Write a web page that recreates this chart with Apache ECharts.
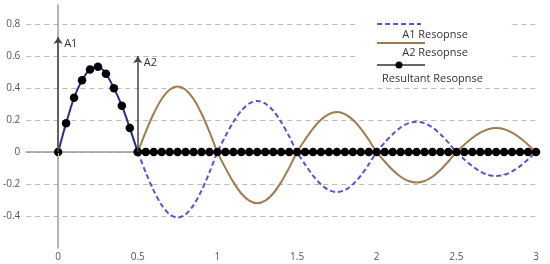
<!DOCTYPE html>
<html>
<head>
<meta charset="utf-8">
<script src="https://cdn.jsdelivr.net/npm/echarts@6/dist/echarts.min.js"></script>
<style>html,body{margin:0;padding:0;background:#fff;}#c{width:550px;height:264px;}</style>
</head>
<body>
<div id="c"></div>
<script>
// x tick labels
const xTicks = [0, 0.5, 1, 1.5, 2, 2.5, 3];
// Resultant response sample times and values
const resX1 = [0, 0.05, 0.1, 0.15, 0.2, 0.25, 0.3, 0.35, 0.4, 0.45, 0.5];
const resY1 = [0, 0.18, 0.34, 0.45, 0.517, 0.533, 0.49, 0.40, 0.29, 0.15, 0];
const resX2 = [0.5, 0.55, 0.6, 0.65, 0.7, 0.75, 0.8, 0.85, 0.9, 0.95, 1, 1.05, 1.1, 1.15, 1.2, 1.25, 1.3, 1.35, 1.4, 1.45, 1.5, 1.55, 1.6, 1.65, 1.7, 1.75, 1.8, 1.85, 1.9, 1.95, 2, 2.05, 2.1, 2.15, 2.2, 2.25, 2.3, 2.35, 2.4, 2.45, 2.5, 2.55, 2.6, 2.65, 2.7, 2.75, 2.8, 2.85, 2.9, 2.95, 3];
const resY2 = [0, 0, 0, 0, 0, 0, 0, 0, 0, 0, 0, 0, 0, 0, 0, 0, 0, 0, 0, 0, 0, 0, 0, 0, 0, 0, 0, 0, 0, 0, 0, 0, 0, 0, 0, 0, 0, 0, 0, 0, 0, 0, 0, 0, 0, 0, 0, 0, 0, 0, 0];
// A1 / A2 responses after t = 0.5 (same time grid as resX2)
const respX = resX2;
const a1Y = [0, -0.127, -0.241, -0.332, -0.39, -0.41, -0.39, -0.332, -0.241, -0.127,
  0, 0.099, 0.188, 0.259, 0.304, 0.32, 0.304, 0.259, 0.188, 0.099,
  0, -0.077, -0.147, -0.202, -0.238, -0.25, -0.238, -0.202, -0.147, -0.077,
  0, 0.059, 0.112, 0.154, 0.181, 0.19, 0.181, 0.154, 0.112, 0.059,
  0, -0.046, -0.088, -0.121, -0.143, -0.15, -0.143, -0.121, -0.088, -0.046, 0];
const a2Y = [0, 0.127, 0.241, 0.332, 0.39, 0.41, 0.39, 0.332, 0.241, 0.127,
  0, -0.099, -0.188, -0.259, -0.304, -0.32, -0.304, -0.259, -0.188, -0.099,
  0, 0.077, 0.147, 0.202, 0.238, 0.25, 0.238, 0.202, 0.147, 0.077,
  0, -0.059, -0.112, -0.154, -0.181, -0.19, -0.181, -0.154, -0.112, -0.059,
  0, 0.046, 0.088, 0.121, 0.143, 0.15, 0.143, 0.121, 0.088, 0.046, 0];
// Impulse arrows
const arrowX = [0, 0.5];
const arrowY = [0.72, 0.6];
const arrowLabels = ['A1', 'A2'];
const legendNames = ['A1 Resopnse', 'A2 Resopnse', 'Resultant Resopnse'];

const zip = (xs, ys) => xs.map((x, i) => [x, ys[i]]);
const FONT = 'Open Sans';
const chart = echarts.init(document.getElementById('c'), null, {renderer: 'canvas'});

const arrowSeries = arrowX.map((x, i) => ({
  type: 'line', data: [], silent: true, z: 1,
  markLine: {
    silent: true, symbol: ['none', 'arrow'], symbolSize: 7,
    lineStyle: {color: '#444', width: 1.5, type: 'solid'},
    label: {show: false},
    data: [[{coord: [x, 0]}, {coord: [x, arrowY[i]]}]]
  },
  markPoint: {
    symbol: 'circle', symbolSize: 0,
    label: {show: true, position: 'right', distance: 6, offset: [0, 7], formatter: arrowLabels[i], color: '#333', fontFamily: FONT, fontSize: 11},
    data: [{coord: [x, arrowY[i]]}]
  }
}));

const option = {
  animation: false,
  backgroundColor: '#fff',
  grid: {left: 24, right: 14, top: 5, bottom: 16, containLabel: false},
  xAxis: {
    type: 'value', min: -0.2, max: 3,
    axisLine: {show: true, lineStyle: {color: '#999', width: 1.5}},
    axisTick: {show: true, inside: true, length: 2, lineStyle: {color: '#999'}, customValues: xTicks},
    axisLabel: {customValues: xTicks, color: '#555', fontFamily: FONT, fontSize: 10, margin: 4},
    splitLine: {show: false}
  },
  yAxis: {
    type: 'value', min: -0.6, max: 0.92, interval: 0.2,
    axisLine: {show: true, lineStyle: {color: '#999', width: 1.5}},
    axisTick: {show: false},
    axisLabel: {color: '#555', fontFamily: FONT, fontSize: 10, margin: 6, showMinLabel: false, showMaxLabel: false,
      formatter: v => (Math.abs(v) < 1e-9 ? '0' : String(Math.round(v * 10) / 10))},
    splitLine: {show: true, showMinLine: false, showMaxLine: false, lineStyle: {color: '#bbb', type: [5, 4], width: 1.2}}
  },
  series: [
    {
      type: 'line', data: [], silent: true, z: 0,
      markLine: {silent: true, symbol: 'none', label: {show: false},
        lineStyle: {color: '#bbb', type: [5, 4], width: 1.2},
        data: [{xAxis: 0}]}
    },
    ...arrowSeries,
    {
      name: legendNames[0], type: 'line', data: zip(respX, a1Y), smooth: 0.3, showSymbol: false, z: 2,
      lineStyle: {color: '#5a4fd6', width: 2, type: [5, 3]}
    },
    {
      name: legendNames[1], type: 'line', data: zip(respX, a2Y), smooth: 0.3, showSymbol: false, z: 2,
      lineStyle: {color: '#a27a4c', width: 2}
    },
    {
      name: legendNames[2], type: 'line', data: zip(resX1, resY1), smooth: 0.3, z: 3,
      symbol: 'circle', symbolSize: 8.5, showAllSymbol: true,
      itemStyle: {color: '#000'}, lineStyle: {color: '#2a2a8c', width: 2}
    },
    {
      name: legendNames[2], type: 'line', data: zip(resX2, resY2), z: 3,
      symbol: 'circle', symbolSize: 8.5, showAllSymbol: true,
      itemStyle: {color: '#000'}, lineStyle: {color: '#000', width: 2}
    }
  ],
  graphic: [
    {type: 'rect', shape: {x: 358, y: 14, width: 150, height: 74}, style: {fill: '#fff'}, z: 10},
    {type: 'line', shape: {x1: 377, y1: 24, x2: 421, y2: 24}, style: {stroke: '#5a4fd6', lineWidth: 2, lineDash: [5, 3]}, z: 11},
    {type: 'text', style: {text: legendNames[0], x: 468, y: 35, align: 'right', verticalAlign: 'middle', fill: '#333', font: '11px "Open Sans"'}, z: 11},
    {type: 'line', shape: {x1: 377, y1: 43, x2: 425, y2: 43}, style: {stroke: '#a27a4c', lineWidth: 2}, z: 11},
    {type: 'text', style: {text: legendNames[1], x: 468, y: 53, align: 'right', verticalAlign: 'middle', fill: '#333', font: '11px "Open Sans"'}, z: 11},
    {type: 'line', shape: {x1: 377, y1: 65, x2: 425, y2: 65}, style: {stroke: '#333', lineWidth: 1.5}, z: 11},
    {type: 'circle', shape: {cx: 399, cy: 65, r: 3.5}, style: {fill: '#000'}, z: 12},
    {type: 'text', style: {text: legendNames[2], x: 382, y: 79, align: 'left', verticalAlign: 'middle', fill: '#333', font: '11px "Open Sans"'}, z: 11}
  ]
};
chart.setOption(option);
</script>
</body>
</html>
